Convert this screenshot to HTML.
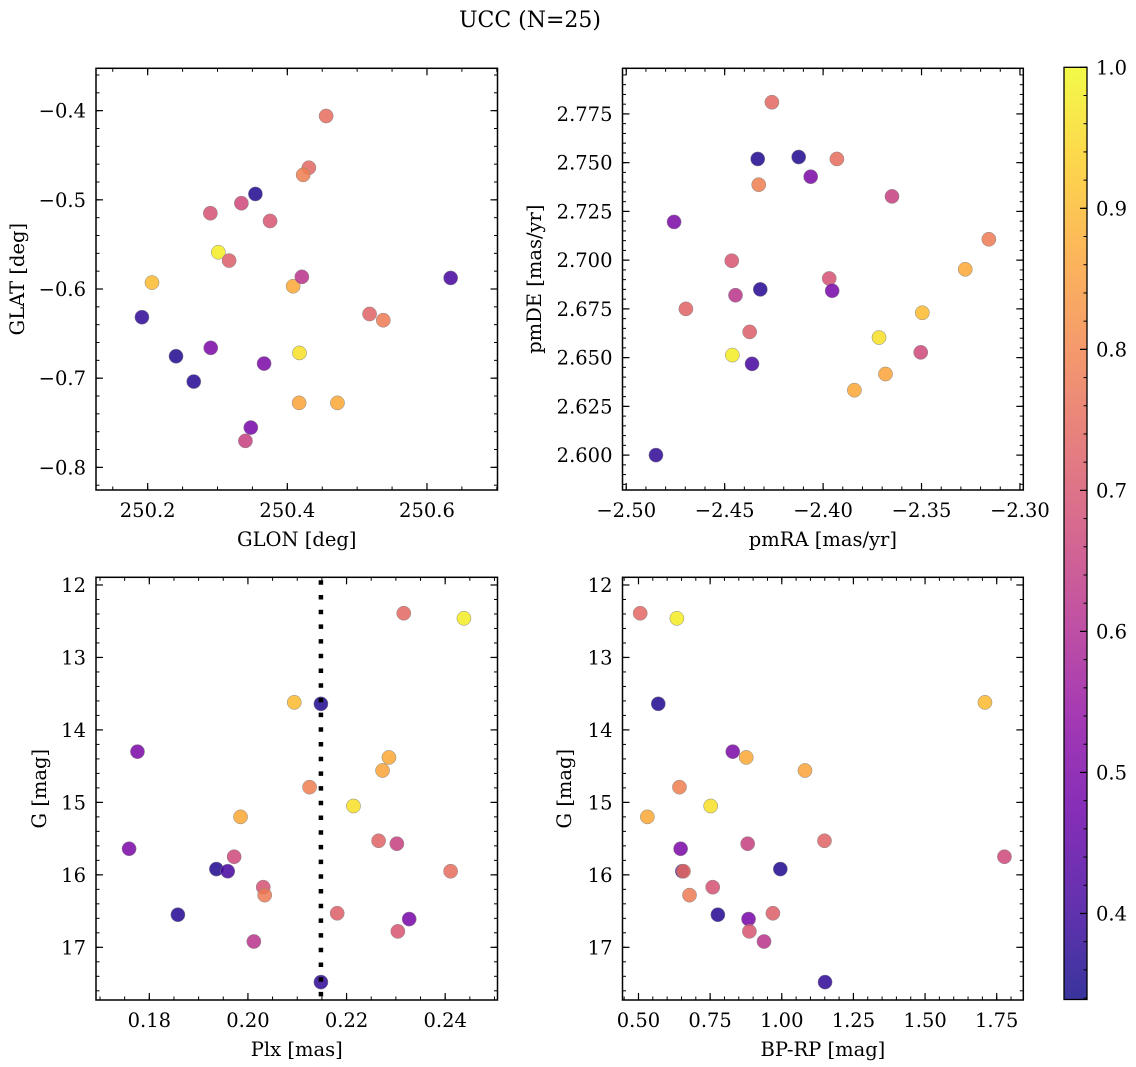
<!DOCTYPE html>
<html><head><meta charset="utf-8">
<style>
html,body{margin:0;padding:0;background:#fff;}
svg{display:block;font-family:"DejaVu Serif","Liberation Serif",serif;}
</style></head>
<body>
<svg id="fig" width="1136" height="1067" xmlns="http://www.w3.org/2000/svg">
<defs>
<linearGradient id="plasmaGrad" x1="0" y1="1" x2="0" y2="0">
<stop offset="0" stop-color="#0d0887"/><stop offset="0.1" stop-color="#41049d"/><stop offset="0.2" stop-color="#6a00a8"/>
<stop offset="0.3" stop-color="#8f0da4"/><stop offset="0.4" stop-color="#b12a90"/><stop offset="0.5" stop-color="#cc4778"/>
<stop offset="0.6" stop-color="#e16462"/><stop offset="0.7" stop-color="#f2844b"/><stop offset="0.8" stop-color="#fca636"/>
<stop offset="0.9" stop-color="#fcce25"/><stop offset="1" stop-color="#f0f921"/>
</linearGradient>
</defs>
<text x="530" y="27" font-size="22" text-anchor="middle">UCC (N=25)</text>
</svg>
<script>
// ---- data (one entry per member star) ----
const glon = [250.4308,250.3012,250.2062,250.3543,250.2903,250.4083,250.4169,250.4227,250.4174,250.4718,250.5178,250.34,250.3667,250.3342,250.2406,250.6339,250.4556,250.2898,250.5374,250.266,250.3166,250.3477,250.3753,250.4208,250.1918];
const glat = [-0.464,-0.5588,-0.5928,-0.4934,-0.666,-0.5969,-0.7277,-0.472,-0.6717,-0.7277,-0.628,-0.7703,-0.6836,-0.5038,-0.6754,-0.5876,-0.406,-0.515,-0.635,-0.7038,-0.5681,-0.7554,-0.5237,-0.5864,-0.6316];
const pmra = [-2.426,-2.4461,-2.3496,-2.4332,-2.4063,-2.3278,-2.3683,-2.4327,-2.3716,-2.3841,-2.4697,-2.365,-2.4757,-2.3504,-2.4124,-2.4361,-2.393,-2.3969,-2.3158,-2.4319,-2.4373,-2.3954,-2.4464,-2.4445,-2.4849];
const pmde = [2.781,2.6513,2.673,2.7519,2.7428,2.6953,2.6416,2.7387,2.6603,2.6333,2.675,2.7327,2.7196,2.6527,2.7529,2.6468,2.7519,2.6906,2.7107,2.685,2.6632,2.6843,2.6997,2.682,2.600];
const plx = [0.2316,0.2438,0.2094,0.2148,0.1776,0.2286,0.2273,0.2125,0.2214,0.1985,0.2265,0.2302,0.1759,0.1972,0.1936,0.1959,0.2411,0.2031,0.2034,0.1858,0.2181,0.2327,0.2304,0.2012,0.2148];
const gmag = [12.39,12.46,13.62,13.64,14.30,14.38,14.56,14.79,15.05,15.2,15.53,15.57,15.64,15.75,15.92,15.95,15.95,16.17,16.28,16.55,16.53,16.61,16.78,16.92,17.48];
const bprp = [0.506,0.634,1.709,0.569,0.829,0.876,1.081,0.643,0.752,0.531,1.149,0.881,0.647,1.777,0.995,0.653,0.657,0.759,0.678,0.777,0.969,0.884,0.887,0.938,1.151];
const prob = [0.74,0.98,0.90,0.36,0.50,0.87,0.86,0.79,0.96,0.87,0.73,0.65,0.50,0.67,0.36,0.41,0.75,0.69,0.78,0.37,0.72,0.49,0.70,0.62,0.38];
const plxMedian = 0.2148;
const probMin = 0.339, probMax = 1.0;
// tick labels
const glonTicks = [250.2,250.4,250.6];
const glatTicks = [-0.4,-0.5,-0.6,-0.7,-0.8];
const pmraTicks = [-2.50,-2.45,-2.40,-2.35,-2.30];
const pmdeTicks = [2.600,2.625,2.650,2.675,2.700,2.725,2.750,2.775];
const plxTicks = [0.18,0.20,0.22,0.24];
const gTicks = [12,13,14,15,16,17];
const bprpTicks = [0.50,0.75,1.00,1.25,1.50,1.75];
const cbarTicks = [0.4,0.5,0.6,0.7,0.8,0.9,1.0];

const NS = "http://www.w3.org/2000/svg";
const svg = document.getElementById('fig');
const plasma = [[13,8,135],[65,4,157],[106,0,168],[143,13,164],[177,42,144],[204,71,120],[225,100,98],[242,132,75],[252,166,54],[252,206,37],[240,249,33]];
function cmap(v){
  let t = (v - probMin)/(probMax - probMin); t = Math.max(0,Math.min(1,t));
  const f = t*10, i = Math.min(9,Math.floor(f)), r = f-i;
  const a = plasma[i], b = plasma[i+1];
  return 'rgb('+a.map((c,k)=>Math.round(c+(b[k]-c)*r)).join(',')+')';
}
function mk(tag, attrs, parent){
  const e = document.createElementNS(NS, tag);
  for (const k in attrs) e.setAttribute(k, attrs[k]);
  (parent||svg).appendChild(e);
  return e;
}
function fmt(v, d){ return (v<0?'\u2212':'') + Math.abs(v).toFixed(d); }

function panel(c){
  const g = mk('g', {});
  
  
  const sx = v => c.L + (v - c.xmin)/(c.xmax - c.xmin)*(c.R - c.L);
  const sy = v => c.T + (v - c.ytop)/(c.ybot - c.ytop)*(c.B - c.T);
  for (let i=0;i<c.xs.length;i++){
    const p = mk('circle', {cx:sx(c.xs[i]), cy:sy(c.ys[i]), r:7.1, fill:cmap(prob[i]), 'fill-opacity':0.85, stroke:'#888', 'stroke-width':0.5}, g);
    
    
  }
  if (c.vline !== undefined){
    const ln = mk('line', {x1:sx(c.vline), x2:sx(c.vline), y1:c.T+3, y2:c.B, stroke:'#000', 'stroke-width':4.5, 'stroke-dasharray':'4.5 10.2'}, g);
    
    
  }
  const fr = mk('rect', {x:c.L, y:c.T, width:c.R-c.L, height:c.B-c.T, fill:'none', stroke:'#000', 'stroke-width':1.5}, g);
  
  
  const lo = Math.min(c.xmin,c.xmax), hi = Math.max(c.xmin,c.xmax);
  for (let v = Math.ceil(lo/c.xminor - 1e-6)*c.xminor; v <= hi + 1e-9; v += c.xminor){
    const x = sx(v);
    mk('line',{x1:x,x2:x,y1:c.B,y2:c.B-3.5,stroke:'#000','stroke-width':1},g);
    mk('line',{x1:x,x2:x,y1:c.T,y2:c.T+3.5,stroke:'#000','stroke-width':1},g);
  }
  const ylo = Math.min(c.ytop,c.ybot), yhi = Math.max(c.ytop,c.ybot);
  for (let v = Math.ceil(ylo/c.yminor - 1e-6)*c.yminor; v <= yhi + 1e-9; v += c.yminor){
    const y = sy(v);
    mk('line',{x1:c.L,x2:c.L+3.5,y1:y,y2:y,stroke:'#000','stroke-width':1},g);
    mk('line',{x1:c.R,x2:c.R-3.5,y1:y,y2:y,stroke:'#000','stroke-width':1},g);
  }
  c.xt.forEach(v=>{
    const x = sx(v);
    mk('line',{x1:x,x2:x,y1:c.B,y2:c.B-7,stroke:'#000','stroke-width':1.2},g);
    mk('line',{x1:x,x2:x,y1:c.T,y2:c.T+7,stroke:'#000','stroke-width':1.2},g);
    const t = mk('text',{x:x,y:c.B+27,'font-size':19.5,'text-anchor':'middle'},g);
    t.textContent = fmt(v,c.xd);
    
    
  });
  c.yt.forEach(v=>{
    const y = sy(v);
    mk('line',{x1:c.L,x2:c.L+7,y1:y,y2:y,stroke:'#000','stroke-width':1.2},g);
    mk('line',{x1:c.R,x2:c.R-7,y1:y,y2:y,stroke:'#000','stroke-width':1.2},g);
    const t = mk('text',{x:c.L-10,y:y+7,'font-size':19.5,'text-anchor':'end'},g);
    t.textContent = fmt(v,c.yd);
    
    
  });
  const xl = mk('text',{x:(c.L+c.R)/2,y:c.B+56,'font-size':19.5,'text-anchor':'middle'},g);
  xl.textContent = c.xlab;
  
  
  const yx = c.ylx, yy = (c.T+c.B)/2;
  const yl = mk('text',{x:yx,y:yy,'font-size':19.5,'text-anchor':'middle',transform:'rotate(-90 '+yx+' '+yy+')'},g);
  yl.textContent = c.ylab;
  
  
}

panel({name:'glon-glat-panel', L:96, R:497.5, T:68.3, B:490, xmin:250.126, xmax:250.701, ytop:-0.3525, ybot:-0.8254,
  xs:glon, ys:glat, xt:glonTicks, yt:glatTicks, xd:1, yd:1, xminor:0.05, yminor:0.02, xlab:'GLON [deg]', ylab:'GLAT [deg]', ylx:24});
panel({name:'pm-panel', L:622.5, R:1023.3, T:68.3, B:490, xmin:-2.5019, xmax:-2.2983, ytop:2.7984, ybot:2.5821,
  xs:pmra, ys:pmde, xt:pmraTicks, yt:pmdeTicks, xd:2, yd:3, xminor:0.01, yminor:0.005, xlab:'pmRA [mas/yr]', ylab:'pmDE [mas/yr]', ylx:541});
panel({name:'plx-g-panel', L:96, R:497.5, T:577.3, B:1000, xmin:0.16919, xmax:0.25061, ytop:11.894, ybot:17.727,
  xs:plx, ys:gmag, xt:plxTicks, yt:gTicks, xd:2, yd:0, xminor:0.005, yminor:0.2, xlab:'Plx [mas]', ylab:'G [mag]', ylx:46, vline:plxMedian});
panel({name:'cmd-panel', L:622.5, R:1023.3, T:577.3, B:1000, xmin:0.4442, xmax:1.8428, ytop:11.894, ybot:17.727,
  xs:bprp, ys:gmag, xt:bprpTicks, yt:gTicks, xd:2, yd:0, xminor:0.05, yminor:0.2, xlab:'BP-RP [mag]', ylab:'G [mag]', ylx:571});

(function(){
  const L=1064, R=1087, T=67.3, B=999.5;
  const g = mk('g',{});
  
  
  const sy = v => T + (probMax - v)/(probMax - probMin)*(B - T);
  mk('rect',{x:L,y:T,width:R-L,height:B-T,fill:'url(#plasmaGrad)','fill-opacity':0.82},g);
  mk('rect',{x:L,y:T,width:R-L,height:B-T,fill:'none',stroke:'#000','stroke-width':1.3},g);
  for (let v=0.34; v<=1.0001; v+=0.02){
    const y = sy(v);
    mk('line',{x1:R,x2:R-3.5,y1:y,y2:y,stroke:'#000','stroke-width':1},g);
  }
  cbarTicks.forEach(v=>{
    const y = sy(v);
    mk('line',{x1:R,x2:R-7,y1:y,y2:y,stroke:'#000','stroke-width':1.2},g);
    const t = mk('text',{x:R+9,y:y+7,'font-size':19.5},g);
    t.textContent = v.toFixed(1);
    
    
  });
})();
</script>
</body></html>
